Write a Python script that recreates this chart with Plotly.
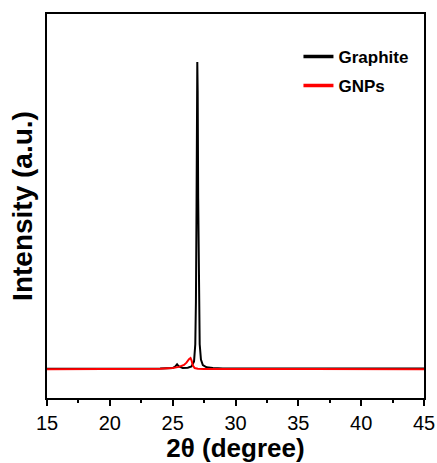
import plotly.graph_objects as go

# Graphite XRD pattern (2theta, intensity a.u.)
graphite_x = [15, 18, 21, 24, 25.0, 25.2, 25.35, 25.5, 25.8, 26.2, 26.5, 26.7, 26.8, 26.85, 26.9, 26.93,
              26.96, 26.99, 27.03, 27.08, 27.15, 27.25, 27.4, 27.7, 28.2, 29, 32, 36, 40, 45]
graphite_y = [7.6, 7.6, 7.6, 7.65, 7.8, 8.2, 8.8, 8.2, 7.8, 7.9, 8.2, 9.5, 14, 25, 50, 78,
              87.5, 80, 52, 26, 14, 10, 8.6, 8.0, 7.8, 7.7, 7.7, 7.7, 7.7, 7.7]

# GNPs XRD pattern
gnp_x = [15, 18, 21, 24, 25.0, 25.5, 25.9, 26.1, 26.3, 26.42, 26.5, 26.6, 26.75, 27.0, 27.5, 29, 32, 36, 40, 45]
gnp_y = [7.5, 7.5, 7.5, 7.6, 7.8, 8.1, 8.6, 9.2, 10.1, 10.4, 9.8, 8.5, 7.8, 7.6, 7.55, 7.6, 7.55, 7.55, 7.55, 7.5]

series_names = ["Graphite", "GNPs"]
series_colors = ["black", "#ff0000"]

x_ticks = [15, 20, 25, 30, 35, 40, 45]
x_minor = [17.5, 22.5, 27.5, 32.5, 37.5, 42.5]

fig = go.Figure()
fig.add_trace(go.Scatter(x=graphite_x, y=graphite_y, mode="lines", name=series_names[0],
                         line=dict(color=series_colors[0], width=2), showlegend=False))
fig.add_trace(go.Scatter(x=gnp_x, y=gnp_y, mode="lines", name=series_names[1],
                         line=dict(color=series_colors[1], width=2), showlegend=False))
# legend entries (thicker sample lines)
for i, (n, c) in enumerate(zip(series_names, series_colors)):
    fig.add_trace(go.Scatter(x=[None], y=[None], mode="lines", name=n,
                             line=dict(color=c, width=3.5), legendgroup=str(i)))

fig.update_layout(
    width=437, height=463,
    margin=dict(l=47, r=13, t=14, b=65),
    paper_bgcolor="white", plot_bgcolor="white",
    font=dict(family="Liberation Sans, Arial", color="black"),
    showlegend=True,
    legend=dict(x=0.667, y=0.935, xanchor="left", yanchor="top",
                font=dict(size=17, family="Liberation Sans, Arial", weight="bold"),
                bgcolor="rgba(0,0,0,0)", tracegroupgap=4, traceorder="grouped"),
    xaxis=dict(range=[15, 45], tickvals=x_ticks, ticks="outside", ticklen=6, tickwidth=2,
               tickcolor="black", showline=True, linecolor="black", linewidth=2, mirror=True,
               showgrid=False, zeroline=False, tickfont=dict(size=20), automargin=False,
               minor=dict(tickvals=x_minor, ticks="outside",
                          ticklen=3, tickwidth=2, tickcolor="black"),
               title=dict(text="<b>2θ (degree)</b>", font=dict(size=26), standoff=4)),
    yaxis=dict(range=[0, 100], showticklabels=False, ticks="", showline=True, linecolor="black",
               linewidth=2, mirror=True, showgrid=False, zeroline=False, automargin=False,
               title=dict(text="<b>Intensity (a.u.)</b>", font=dict(size=28), standoff=4)),
)

fig.write_html("out.html", config={"displayModeBar": False},
               post_script="document.body.style.margin='0px';")
